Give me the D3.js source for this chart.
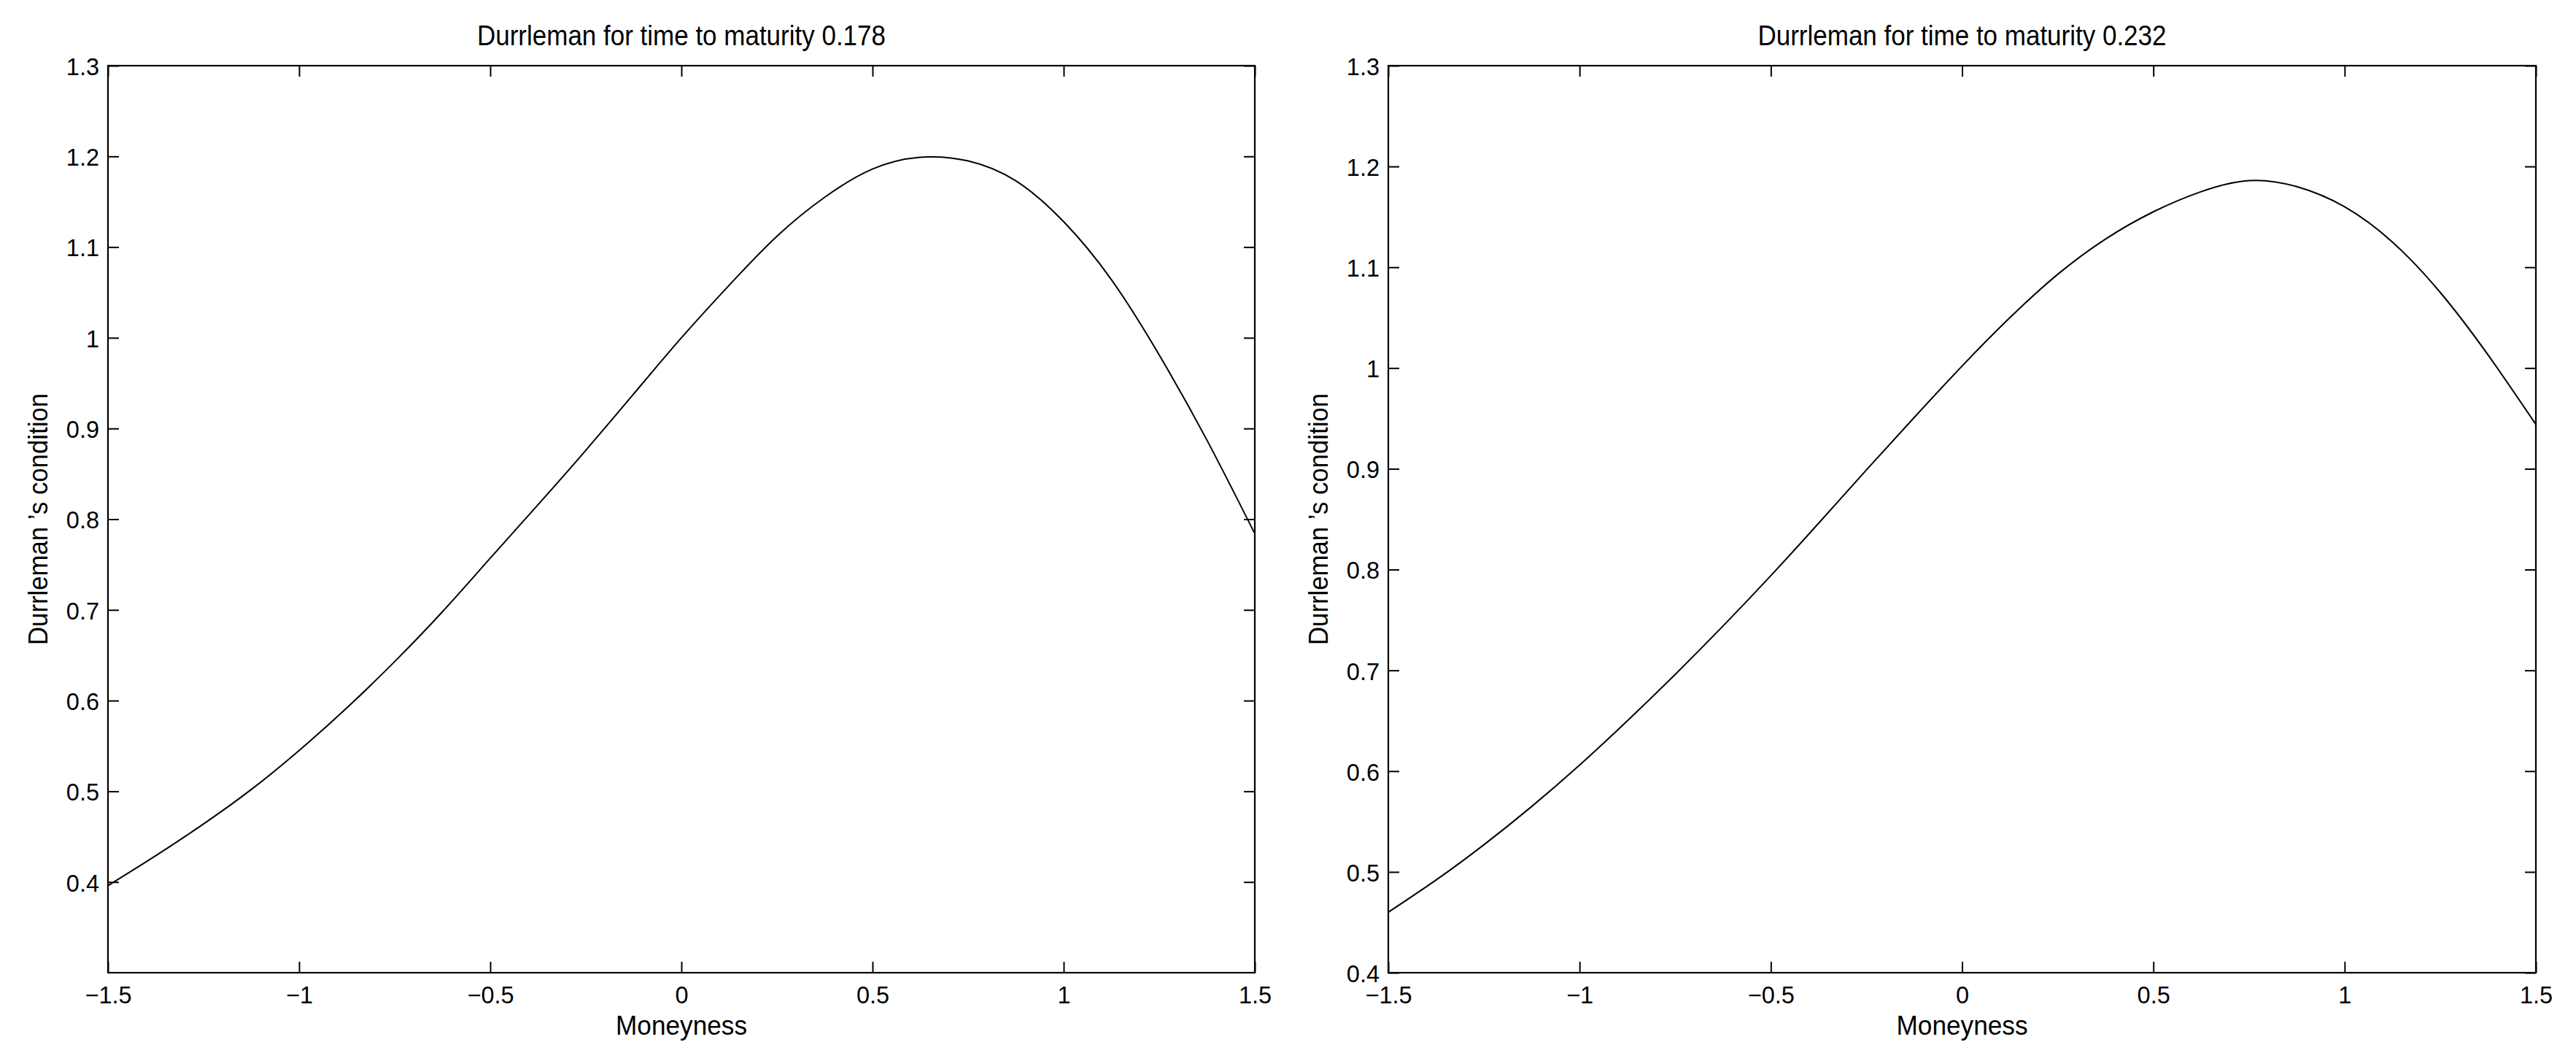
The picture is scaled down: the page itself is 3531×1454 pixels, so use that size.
<!DOCTYPE html>
<html>
<head>
<meta charset="utf-8">
<script src="https://cdn.jsdelivr.net/npm/d3@7"></script>
<style>
  html, body { margin: 0; padding: 0; background: #fff; }
  svg { display: block; }
  text { font-family: "Liberation Sans", Arial, Helvetica, sans-serif; fill: #000; }
</style>
</head>
<body>
<svg id="chart" width="3531" height="1454"></svg>
<script>
// ---------------- data ----------------
const moneyness = [-1.5, -1.375, -1.25, -1.125, -1.0, -0.875, -0.75, -0.625, -0.5, -0.375, -0.25, -0.125,
                   0, 0.125, 0.25, 0.375, 0.5, 0.625, 0.75, 0.875, 1.0, 1.125, 1.25, 1.375, 1.5];

const durrleman0178 = [0.396, 0.429, 0.464, 0.502, 0.545, 0.592, 0.643, 0.698, 0.757, 0.816, 0.876, 0.938,
                       1.000, 1.058, 1.112, 1.155, 1.186, 1.199, 1.195, 1.173, 1.128, 1.064, 0.981, 0.887, 0.784];

const durrleman0232 = [0.460, 0.492, 0.527, 0.565, 0.606, 0.650, 0.696, 0.744, 0.794, 0.846, 0.899, 0.951,
                       1.002, 1.050, 1.093, 1.128, 1.155, 1.175, 1.186, 1.180, 1.160, 1.125, 1.075, 1.013, 0.944];

const xTicks = [-1.5, -1, -0.5, 0, 0.5, 1, 1.5];
const yTicks = [0.4, 0.5, 0.6, 0.7, 0.8, 0.9, 1.0, 1.1, 1.2, 1.3];

const titles = ["Durrleman for time to maturity 0.178", "Durrleman for time to maturity 0.232"];
const yDomains = [[0.3, 1.3], [0.4, 1.3]];
const xLabel = "Moneyness";
const yLabel = "Durrleman \u2019s condition";

// ---------------- layout ----------------
const panels = [
  { left: 148, right: 1720, top: 90, bottom: 1333, values: durrleman0178, title: titles[0], yDomain: yDomains[0] },
  { left: 1903, right: 3476, top: 90, bottom: 1333, values: durrleman0232, title: titles[1], yDomain: yDomains[1] }
];

const svg = d3.select("#chart");
const fmt = v => d3.format("~g")(v).replace("-", "\u2212");
const tickLen = 15;

panels.forEach(p => {
  const x = d3.scaleLinear().domain([-1.5, 1.5]).range([p.left, p.right]);
  const y = d3.scaleLinear().domain(p.yDomain).range([p.bottom, p.top]);
  const g = svg.append("g");

  const gb = g.append("g").attr("transform", `translate(0,${p.bottom})`)
    .call(d3.axisBottom(x).tickValues(xTicks).tickFormat(fmt).tickSizeInner(-tickLen).tickSizeOuter(0).tickPadding(19));
  const gt = g.append("g").attr("transform", `translate(0,${p.top})`)
    .call(d3.axisTop(x).tickValues(xTicks).tickFormat("").tickSizeInner(-tickLen).tickSizeOuter(0));
  const gl = g.append("g").attr("transform", `translate(${p.left},0)`)
    .call(d3.axisLeft(y).tickValues(yTicks).tickFormat(fmt).tickSizeInner(-tickLen).tickSizeOuter(0).tickPadding(12));
  const gr = g.append("g").attr("transform", `translate(${p.right},0)`)
    .call(d3.axisRight(y).tickValues(yTicks).tickFormat("").tickSizeInner(-tickLen).tickSizeOuter(0));

  [gb, gt, gl, gr].forEach(ax => {
    ax.select(".domain").remove();
    ax.selectAll(".tick line").attr("stroke", "#000").attr("stroke-width", 2);
    ax.selectAll(".tick text")
      .attr("font-family", "'Liberation Sans', Arial, Helvetica, sans-serif")
      .attr("font-size", 32.5).attr("fill", "#000");
  });
  gl.selectAll(".tick text").attr("dy", "0.38em");

  g.append("rect")
    .attr("x", p.left).attr("y", p.top)
    .attr("width", p.right - p.left).attr("height", p.bottom - p.top)
    .attr("fill", "none").attr("stroke", "#000").attr("stroke-width", 2.2);

  const line = d3.line()
    .x((d, i) => x(moneyness[i]))
    .y(d => y(d))
    .curve(d3.curveNatural);
  g.append("path")
    .datum(p.values)
    .attr("d", line)
    .attr("fill", "none")
    .attr("stroke", "#000")
    .attr("stroke-width", 2);

  const cx = (p.left + p.right) / 2;
  const cy = (p.top + p.bottom) / 2;

  g.append("text")
    .attr("x", cx).attr("y", 62)
    .attr("text-anchor", "middle")
    .attr("font-size", 38)
    .attr("textLength", 560).attr("lengthAdjust", "spacingAndGlyphs")
    .text(p.title);

  g.append("text")
    .attr("x", cx).attr("y", 1418)
    .attr("text-anchor", "middle")
    .attr("font-size", 36)
    .attr("textLength", 180).attr("lengthAdjust", "spacingAndGlyphs")
    .text(xLabel);

  g.append("text")
    .attr("transform", `translate(${p.left - 83},${cy}) rotate(-90)`)
    .attr("text-anchor", "middle")
    .attr("font-size", 37)
    .attr("textLength", 345).attr("lengthAdjust", "spacingAndGlyphs")
    .text(yLabel);
});
</script>
</body>
</html>
